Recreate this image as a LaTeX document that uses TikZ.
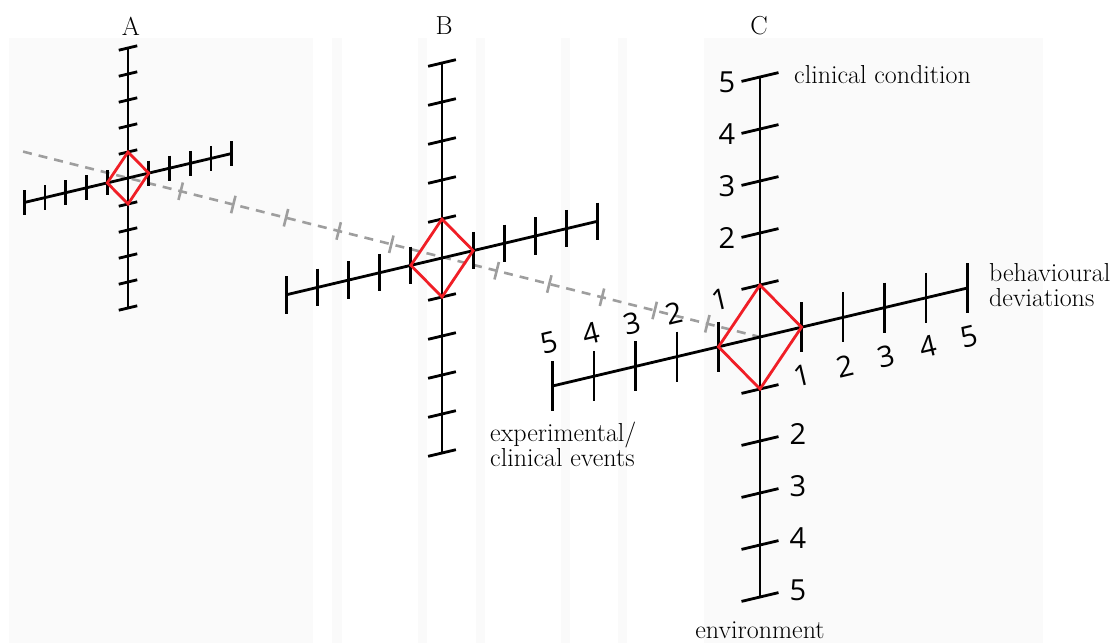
\documentclass[tikz,border=0pt]{standalone}
\usepackage{fontspec}
\usepackage{tikz}
\usetikzlibrary{calc}
\newfontfamily\numfont{Open Sans}
\definecolor{trailgray}{RGB}{158,158,158}
\definecolor{markred}{RGB}{240,30,38}
\definecolor{bandgray}{RGB}{250,250,250}

\begin{document}
\begin{tikzpicture}[
  x=1pt, y=-1pt,
  band/.style={fill=bandgray, draw=none},
  axisline/.style={line width=2.8pt, black},
  trail/.style={line width=2.6pt, color=trailgray, dash pattern=on 9pt off 7pt},
  trailtick/.style={line width=2.6pt, color=trailgray},
  rhomb/.style={line width=2.8pt, color=markred, line join=miter},
  caption/.style={font=\fontsize{26}{25}\selectfont, inner sep=0pt},
  numlabel/.style={font=\numfont\fontsize{29}{29}\selectfont, inner sep=0pt}
]
  \useasboundingbox (0,0) rectangle (1114,643);

  % Background bands
  \foreach \xa/\xb in {9/313, 332/342, 418/427, 476/485, 561/570, 618/627, 704/1043}
    \fill[band] (\xa,38) rectangle (\xb,643);

  % Centres of the three crosses
  \coordinate (A) at (128,178);
  \coordinate (B) at (442,258);
  \coordinate (C) at (760,337);

  % Dashed trail through the centres
  \draw[trail] ($(A)!-0.166!(C)$) -- (C);
  \foreach \k in {1,2,3,4,5,7,8,9,10,11} {
    \coordinate (tt) at ($(A)!\k/12!(C)$);
    \draw[trailtick] ($(tt)!9pt!90:(C)$) -- ($(tt)!9pt!-90:(C)$);
  }

  % Crosses with ticks and diamonds
  \foreach \c/\s in {A/0.5, B/0.75, C/1} {
    \draw[axisline] ($(\c)+(0,-260*\s)$) -- ($(\c)+(0,260*\s)$);
    \draw[axisline] ($(\c)+(-207.5*\s,49*\s)$) -- ($(\c)+(207.5*\s,-49*\s)$);
    \foreach \k in {-5,...,-1,1,2,...,5} {
      \draw[axisline] ($(\c)+({-18.5*\s},{(4.4-52*(\k))*\s})$) -- ++({37*\s},{-8.8*\s});
      \draw[axisline] ($(\c)+({41.5*(\k)*\s},{(-9.8*(\k)-25)*\s})$) -- ++(0,{50*\s});
    }
    \draw[rhomb] ($(\c)+(0,-52*\s)$) -- ($(\c)+(41.5*\s,-9.8*\s)$)
      -- ($(\c)+(0,52*\s)$) -- ($(\c)+(-41.5*\s,9.8*\s)$) -- cycle;
  }

  % Panel letters
  \node[caption] (capA) at (131,26) {A};
  \node[caption] (capB) at (444,26) {B};
  \node[caption] (capC) at (759,26) {C};

  % Scale numbers on C
  \foreach \k in {2,...,5} {
    \node[numlabel] (up\k) at (727,{342-52*\k}) {\k};
    \node[numlabel] (down\k) at (798,{330+52*\k}) {\k};
    \node[numlabel, rotate=13.3] (left\k) at ({757-41.5*\k},{294+9.8*\k}) {\k};
    \node[numlabel, rotate=13.3] (right\k) at ({762+41.5*\k},{386-9.8*\k}) {\k};
  }
  \node[numlabel, rotate=13.3] (oneleft) at (720,300) {1};
  \node[numlabel, rotate=13.3] (oneright) at (802,376) {1};

  % Axis names
  \node[caption, anchor=west] (clincond) at (794,75) {clinical condition};
  \node[caption, anchor=west, align=left] (behdev) at (989,285) {behavioural\\deviations};
  \node[caption, anchor=west, align=left] (expev) at (490,444) {experimental/\\clinical events};
  \node[caption] (envir) at (760,630) {environment};
\end{tikzpicture}
\end{document}
